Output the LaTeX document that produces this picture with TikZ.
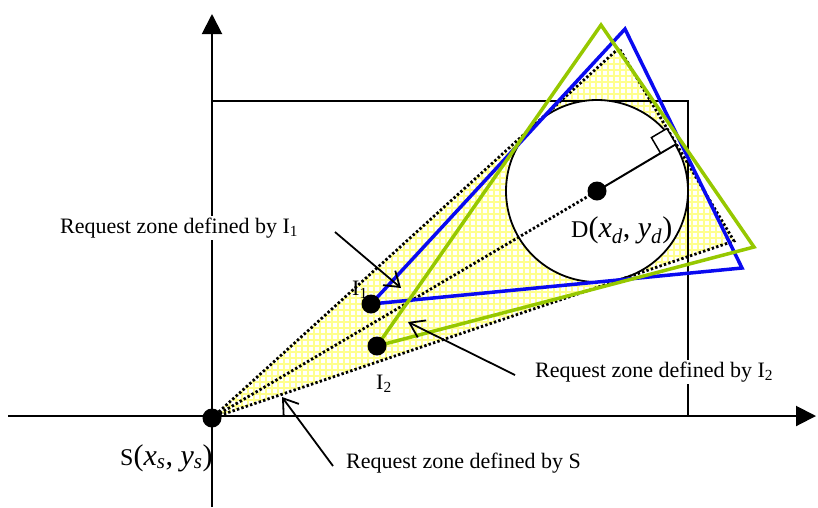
\documentclass[tikz,border=0pt]{standalone}
\usepackage{fontspec}
\setmainfont{Liberation Serif}
\usetikzlibrary{arrows.meta,calc}
\definecolor{zblue}{RGB}{10,10,240}
\definecolor{zgreen}{RGB}{150,200,0}
\definecolor{zyellow}{RGB}{255,255,140}
\newcommand{\bigsz}{\fontsize{30}{30}\selectfont}
\tikzset{
 axis/.style={line width=2pt, -{Triangle[length=20pt,width=20pt]}},
 frame/.style={line width=1.5pt},
 zoneS/.style={line width=2.8pt, dash pattern=on 2.4pt off 2.2pt},
 zoneI1/.style={draw=zblue, line width=3.5pt},
 zoneI2/.style={draw=zgreen, line width=3.5pt},
 dot/.style={circle, fill=black, inner sep=0pt, minimum size=19pt},
 lbl/.style={font=\fontsize{22}{25}\selectfont, inner sep=2pt},
 boxlbl/.style={lbl, fill=white},
 ptlbl/.style={font=\fontsize{24}{28}\selectfont, inner sep=0pt},
 pointer/.style={line width=1.8pt, -{Straight Barb[length=14pt,width=19pt]}},
 gridline/.style={draw=zyellow, line width=1.1pt},
}
\begin{document}
\begin{tikzpicture}[x=1pt,y=-1pt]
\useasboundingbox (0,0) rectangle (818,507);
% key points
\coordinate (S) at (212,418);
\coordinate (D) at (597,191);
\coordinate (A) at (619,48);
\coordinate (B) at (734,241);
\coordinate (T) at (676,144);
\coordinate (I1) at (371,304);
\coordinate (I2) at (377,346);
\coordinate (Bt) at (625,29);
\coordinate (Br) at (742,268);
\coordinate (Gt) at (601,25);
\coordinate (Gr) at (754,247);
% yellow grid inside the S zone
\begin{scope}
\clip (S) -- (A) -- (B) -- cycle;
\foreach \x in {200,206,...,760} \draw[gridline] (\x,40) -- (\x,430);
\foreach \y in {40,46,...,430} \draw[gridline] (200,\y) -- (760,\y);
\end{scope}
% axes and frame
\coordinate (xa0) at (8,416);
\coordinate (xa1) at (816,416);
\coordinate (ya0) at (212,507);
\coordinate (ya1) at (212,14);
\draw[axis] (xa0) -- (xa1);
\draw[axis] (ya0) -- (ya1);
\draw[frame] (212,101) rectangle (688,416);
% circle around D
\node[circle, draw, fill=white, line width=1.8pt, minimum size=182pt, inner sep=0pt] (C) at (D) {};
% request zone of S
\draw[zoneS] (S) -- (A) -- (B) -- cycle;
\draw[zoneS] (S) -- (D);
% radius and right angle mark
\draw[line width=2pt] (D) -- (T);
\draw[line width=1.5pt, fill=white] (T) -- (660.5,153.1) -- (651.4,137.6) -- (666.9,128.5) -- cycle;
% request zones of I1 and I2
\draw[zoneI1] (I1) -- (Bt) -- (Br) -- cycle;
\draw[zoneI2] (I2) -- (Gt) -- (Gr) -- cycle;
% dots
\node[dot] (Sdot) at (S) {};
\node[dot] (Ddot) at (D) {};
\node[dot] (I1dot) at (I1) {};
\node[dot] (I2dot) at (I2) {};
% point labels
\node[lbl, anchor=base west] (I1lbl) at (350,295) {I\textsubscript{1}};
\node[lbl, anchor=base west] (I2lbl) at (374,389) {I\textsubscript{2}};
\node[ptlbl, anchor=base west] (Dlbl) at (571,237) {D{\bigsz(\textit{x}\textsubscript{\textit{d}}, \textit{y}\textsubscript{\textit{d}})}};
\node[ptlbl, anchor=base west] (Slbl) at (120,465) {S{\bigsz(\textit{x}\textsubscript{\textit{s}}, \textit{y}\textsubscript{\textit{s}})}};
% zone labels
\node[boxlbl, anchor=base west] (L1) at (58,233) {Request zone defined by I\textsubscript{1}};
\node[boxlbl, anchor=base west] (L2) at (533,377) {Request zone defined by I\textsubscript{2}};
\node[lbl, anchor=base west] (LS) at (344,468) {Request zone defined by S};
\coordinate (p1s) at (335,232);
\coordinate (p1e) at (401,288);
\coordinate (p2s) at (515,375);
\coordinate (p2e) at (408,322);
\coordinate (p3s) at (333,466);
\coordinate (p3e) at (282,397);
\draw[pointer] (p1s) -- (p1e);
\draw[pointer] (p2s) -- (p2e);
\draw[pointer] (p3s) -- (p3e);
\end{tikzpicture}
\end{document}
